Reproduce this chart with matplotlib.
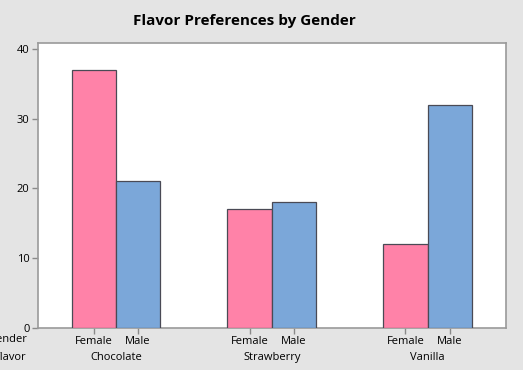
import matplotlib
matplotlib.use("Agg")
import matplotlib.pyplot as plt
import numpy as np

flavors = ["Chocolate", "Strawberry", "Vanilla"]
genders = ["Female", "Male"]
female = [37, 17, 12]
male = [21, 18, 32]
yticks = [0, 10, 20, 30, 40]

plt.rcParams["font.family"] = ["Open Sans", "DejaVu Sans"]
FS = 8

W, H = 523, 370
fig = plt.figure(figsize=(W / 100, H / 100), dpi=100, facecolor="#E4E4E4")
ax = fig.add_axes([38 / W, 1 - 328 / H, (505.5 - 38) / W, (328 - 43) / H])
ax.set_facecolor("white")

x = np.arange(len(flavors))
w = 0.285
ax.bar(x - w / 2, female, width=w, color="#FF82A8", edgecolor="#4A4A55", linewidth=0.9, zorder=3)
ax.bar(x + w / 2, male, width=w, color="#7BA7D9", edgecolor="#4A4A55", linewidth=0.9, zorder=3)

ax.set_xlim(-0.5, 2.5)
ax.set_ylim(0, 40.85)
ax.set_yticks(yticks)
ax.set_yticklabels([str(v) for v in yticks], fontsize=FS, color="black")

pos = np.concatenate([x - w / 2, x + w / 2])
ax.set_xticks(np.sort(pos))
labels = []
for i in range(len(flavors)):
    labels += genders
ax.set_xticklabels(labels, fontsize=FS)
ax.tick_params(axis="both", colors="#8A8A8A", length=4, width=1, labelcolor="black", pad=2)
for s in ax.spines.values():
    s.set_color("#9A9A9A")
    s.set_linewidth(1.2)

for i, f in enumerate(flavors):
    ax.annotate(f, xy=(x[i], 0), xycoords=("data", "axes fraction"),
                xytext=(0, -21), textcoords="offset points",
                ha="center", va="center", fontsize=FS)

fig.text(27 / W, 1 - 340 / H, "Gender", ha="right", va="center", fontsize=FS)
fig.text(27 / W, 1 - 357 / H, "Flavor", ha="right", va="center", fontsize=FS)

fig.text(244 / W, 1 - 21 / H, "Flavor Preferences by Gender", ha="center", va="center",
         fontsize=11, fontweight="bold")

fig.savefig("out.png", dpi=100, facecolor=fig.get_facecolor())
